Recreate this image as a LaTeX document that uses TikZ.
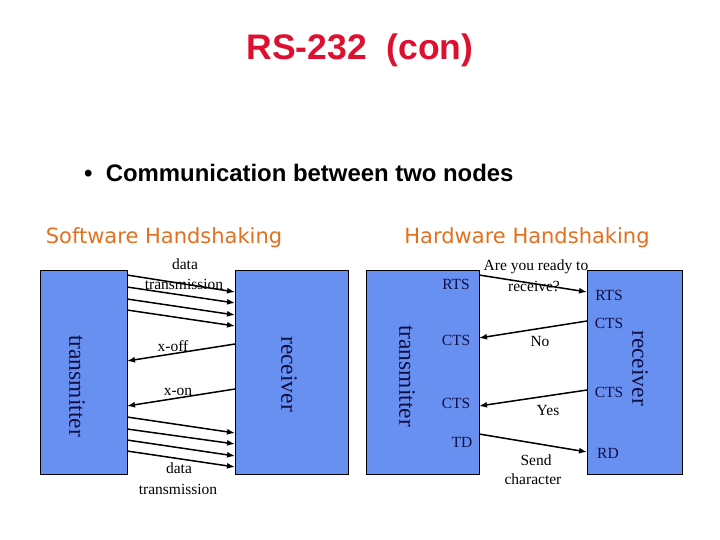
\documentclass[tikz,border=0pt]{standalone}
\usepackage{fontspec}
\setmainfont{Liberation Serif}
\newfontfamily\arialfont{Liberation Sans}
\newfontfamily\dvfont{DejaVu Sans}
\usetikzlibrary{arrows.meta}
\definecolor{boxblue}{RGB}{104,144,240}
\definecolor{titlered}{RGB}{222,16,48}
\definecolor{headorange}{RGB}{226,112,32}
\definecolor{navy}{RGB}{15,15,70}
\begin{document}
\begin{tikzpicture}[x=1pt,y=-1pt,
  blockbox/.style={draw=black,line width=0.8pt,fill=boxblue,inner sep=0pt,anchor=north west},
  sidelabel/.style={text=navy,font=\fontsize{23.5}{26}\selectfont,rotate=-90,inner sep=0pt},
  pinlabel/.style={text=navy,font=\fontsize{15.5}{18}\selectfont,inner sep=0pt},
  arrlabel/.style={text=black,font=\fontsize{15.5}{18}\selectfont,inner sep=0pt},
  sig/.style={line width=1.5pt,-{Latex[length=8pt,width=6pt]}},
  heading/.style={text=headorange,font=\dvfont\fontsize{21}{24}\selectfont,inner sep=0pt}]
\useasboundingbox (0,0) rectangle (720,540);
% title
\node[text=titlered,font=\arialfont\bfseries\fontsize{35.5}{40}\selectfont,inner sep=0pt] (title) at (360,50) {RS-232\ \ (con)};
\node[font=\arialfont\bfseries\fontsize{23.9}{27}\selectfont,inner sep=0pt,anchor=west] (bullet) at (84,173) {\textbullet\ \ Communication between two nodes};
\node[heading] (sw) at (164,238) {Software Handshaking};
\node[heading] (hw) at (527,238) {Hardware Handshaking};
% software boxes
\node[blockbox,minimum width=87pt,minimum height=204pt] (stx) at (40,270) {};
\node[blockbox,minimum width=113pt,minimum height=204pt] (srx) at (235,270) {};
\node[sidelabel] (stxl) at (77,386) {transmitter};
\node[sidelabel] (srxl) at (289,374) {receiver};
% hardware boxes
\node[blockbox,minimum width=113pt,minimum height=204pt] (htx) at (366,270) {};
\node[blockbox,minimum width=95pt,minimum height=204pt] (hrx) at (587,270) {};
\node[sidelabel] (htxl) at (407,376) {transmitter};
\node[sidelabel] (hrxl) at (640,368) {receiver};
% software arrow endpoints
\coordinate (a1s) at (127,275); \coordinate (a1e) at (235,292);
\coordinate (a2s) at (127,287); \coordinate (a2e) at (235,303);
\coordinate (a3s) at (127,299); \coordinate (a3e) at (235,315);
\coordinate (a4s) at (127,310); \coordinate (a4e) at (235,326);
\coordinate (offs) at (235,344); \coordinate (offe) at (127,361);
\coordinate (ons) at (235,389); \coordinate (one) at (127,406);
\coordinate (b1s) at (127,417); \coordinate (b1e) at (235,433);
\coordinate (b2s) at (127,429); \coordinate (b2e) at (235,444);
\coordinate (b3s) at (127,440); \coordinate (b3e) at (235,456);
\coordinate (b4s) at (127,451); \coordinate (b4e) at (235,467);
\foreach \p in {a1,a2,a3,a4,b1,b2,b3,b4}{\draw[sig] (\p s) -- (\p e);}
\draw[sig] (offs) -- (offe);
\draw[sig] (ons) -- (one);
\node[arrlabel] (d1) at (185,264) {data};
\node[arrlabel] (t1) at (184,284) {transmission};
\node[arrlabel] (xoff) at (173,346) {x-off};
\node[arrlabel] (xon) at (178,392) {x-on};
\node[arrlabel] (d2) at (179,468) {data};
\node[arrlabel] (t2) at (178,489) {transmission};
% hardware arrow endpoints
\coordinate (rtss) at (479,275); \coordinate (rtse) at (587,292);
\coordinate (nos) at (587,321); \coordinate (noe) at (479,338);
\coordinate (yess) at (587,390); \coordinate (yese) at (479,406);
\coordinate (tds) at (479,434); \coordinate (tde) at (587,452);
\draw[sig] (rtss) -- (rtse);
\draw[sig] (nos) -- (noe);
\draw[sig] (yess) -- (yese);
\draw[sig] (tds) -- (tde);
\node[pinlabel] (lrts) at (456,284) {RTS};
\node[pinlabel] (lcts1) at (456,340) {CTS};
\node[pinlabel] (lcts2) at (456,403) {CTS};
\node[pinlabel] (ltd) at (462,442) {TD};
\node[pinlabel] (rrts) at (609,295) {RTS};
\node[pinlabel] (rcts1) at (609,323) {CTS};
\node[pinlabel] (rcts2) at (609,392) {CTS};
\node[pinlabel] (rrd) at (608,453) {RD};
\node[arrlabel] (q1) at (536,267) {Are you ready to};
\node[arrlabel] (q2) at (534,286) {receive?};
\node[arrlabel] (no) at (540,341) {No};
\node[arrlabel] (yes) at (548,410) {Yes};
\node[arrlabel] (send) at (536,460) {Send};
\node[arrlabel] (char) at (533,479) {character};
\end{tikzpicture}
\end{document}
